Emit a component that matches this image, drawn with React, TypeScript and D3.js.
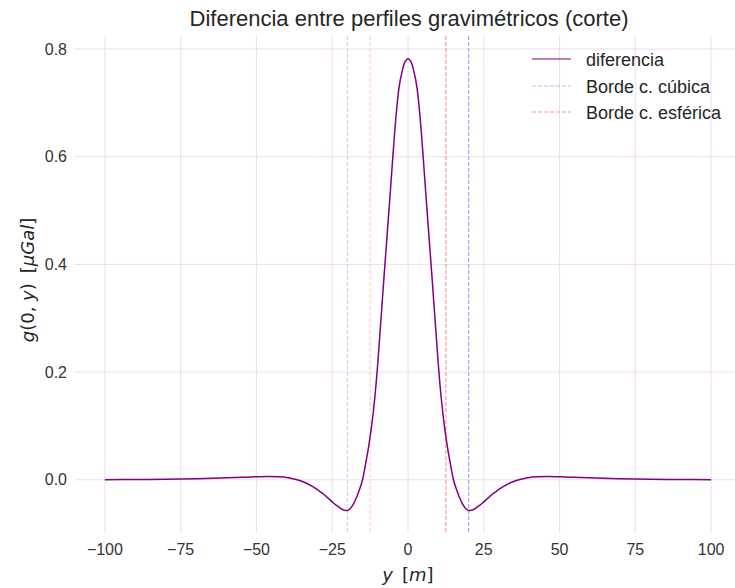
import React from "react";
import * as d3 from "d3";

// lectura del perfil (mitad positiva, el corte es simétrico)
const halfY = [0, 1, 2, 3, 4, 5, 6, 7, 8, 9, 10, 11, 12, 13, 14, 15, 16, 17, 18, 19, 20, 21, 22, 23, 24, 25, 26, 27, 28, 29, 30, 32, 34, 36, 38, 40, 43, 46, 50, 55, 60, 70, 80, 90, 100];
const halfDiff = [0.782, 0.776, 0.757, 0.727, 0.672, 0.6, 0.522, 0.446, 0.37, 0.292, 0.214, 0.15, 0.1, 0.061, 0.029, 0.0, -0.018, -0.033, -0.045, -0.0535, -0.057, -0.0565, -0.054, -0.05, -0.046, -0.041, -0.036, -0.031, -0.026, -0.022, -0.018, -0.011, -0.005, -0.001, 0.002, 0.0042, 0.0055, 0.006, 0.0055, 0.0045, 0.0035, 0.002, 0.001, 0.0005, 0.0002];

const bordeCubica = [-20, 20];
const bordeEsferica = [-12.5, 12.5];

const xTicks = [-100, -75, -50, -25, 0, 25, 50, 75, 100];
const yTicks = [0.0, 0.2, 0.4, 0.6, 0.8];

const W = 735;
const H = 588;
const FONT = "'Liberation Sans', Arial, sans-serif";
const GRID = "#f0dcf0";

export default function App() {
  const pts: [number, number][] = [];
  for (let i = halfY.length - 1; i > 0; i--) pts.push([-halfY[i], halfDiff[i]]);
  for (let i = 0; i < halfY.length; i++) pts.push([halfY[i], halfDiff[i]]);

  const x = d3.scaleLinear().domain([-110, 110]).range([74.6, 741.4]);
  const y = d3.scaleLinear().domain([-0.0989, 0.8242]).range([533, 36]);

  const line = d3
    .line<[number, number]>()
    .x(d => x(d[0]))
    .y(d => y(d[1]))
    .curve(d3.curveCatmullRom.alpha(0.5));

  const [x0, x1] = x.range();
  const [y0, y1] = y.range();

  return (
    <svg width={W} height={H} style={{ position: "absolute", left: 0, top: 0, background: "#fff" }} fontFamily={FONT}>
      {/* rejilla */}
      {xTicks.map(t => (
        <line key={"gx" + t} x1={x(t)} x2={x(t)} y1={y1} y2={y0} stroke={GRID} strokeWidth={1} />
      ))}
      {yTicks.map(t => (
        <line key={"gy" + t} x1={x0} x2={x1} y1={y(t)} y2={y(t)} stroke={GRID} strokeWidth={1} />
      ))}

      {/* bordes */}
      {bordeCubica.map((b, i) => (
        <line key={"bc" + b} x1={x(b)} x2={x(b)} y1={y1} y2={y0} stroke="#6666ff"
          strokeOpacity={i === 0 ? 0.35 : 0.7} strokeWidth={1} strokeDasharray="4,2" />
      ))}
      {bordeEsferica.map((b, i) => (
        <line key={"be" + b} x1={x(b)} x2={x(b)} y1={y1} y2={y0} stroke="#ff5555"
          strokeOpacity={i === 0 ? 0.35 : 0.7} strokeWidth={1} strokeDasharray="4,2" />
      ))}

      <path d={line(pts) ?? ""} fill="none" stroke="#800080" strokeWidth={1.5} />

      {/* ticks */}
      {xTicks.map(t => (
        <text key={"tx" + t} x={x(t)} y={555} textAnchor="middle" fontSize={16} fill="#333">
          {t < 0 ? "\u2212" + Math.abs(t) : t}
        </text>
      ))}
      {yTicks.map(t => (
        <text key={"ty" + t} x={67} y={y(t) + 5.5} textAnchor="end" fontSize={16} fill="#333">
          {t.toFixed(1)}
        </text>
      ))}

      {/* títulos */}
      <text x={409} y={26} textAnchor="middle" fontSize={22} fill="#262626">
        Diferencia entre perfiles gravimétricos (corte)
      </text>
      <text x={408} y={581} textAnchor="middle" fontSize={18} fill="#262626" fontFamily="'DejaVu Sans', sans-serif">
        <tspan fontStyle="italic">y</tspan>
        <tspan dx={9}>[</tspan>
        <tspan fontStyle="italic">m</tspan>
        <tspan>]</tspan>
      </text>
      <text transform="translate(34,280) rotate(-90)" textAnchor="middle" fontSize={18} fill="#262626" fontFamily="'DejaVu Sans', sans-serif">
        <tspan fontStyle="italic">g</tspan>
        <tspan>(0, </tspan>
        <tspan fontStyle="italic">y</tspan>
        <tspan>)</tspan>
        <tspan dx={10}>[</tspan>
        <tspan fontStyle="italic">μGal</tspan>
        <tspan>]</tspan>
      </text>

      {/* leyenda */}
      <g fontSize={18} fill="#262626">
        <line x1={532} x2={571} y1={59} y2={59} stroke="#800080" strokeWidth={1} />
        <text x={586} y={66}>diferencia</text>
        <line x1={532} x2={571} y1={86} y2={86} stroke="#6666ff" strokeOpacity={0.45} strokeDasharray="4,2" />
        <text x={586} y={93}>Borde c. cúbica</text>
        <line x1={532} x2={571} y1={112} y2={112} stroke="#ff5555" strokeOpacity={0.6} strokeDasharray="4,2" />
        <text x={586} y={119}>Borde c. esférica</text>
      </g>
    </svg>
  );
}
